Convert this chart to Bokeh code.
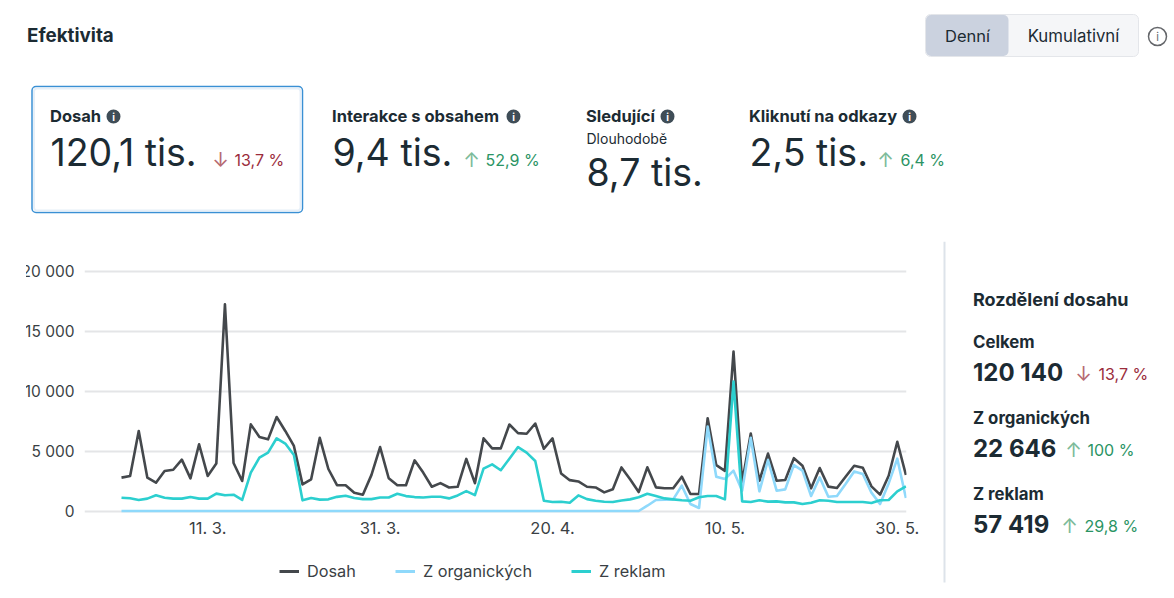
from bokeh.plotting import figure
from bokeh.layouts import column, row
from bokeh.models import BoxAnnotation, Label, Legend, LegendItem, FixedTicker, Range1d
from bokeh.embed import file_html
from bokeh.resources import INLINE

dosah = [2780, 2920, 6670, 2780, 2360, 3330, 3440, 4280, 2720, 5560, 2920, 3950, 17220, 4000, 2500, 7220,
         6170, 5970, 7830, 6670, 5420, 2220, 2640, 6100, 3500, 2160, 2150, 1520, 1350, 3010, 5330, 2730,
         2150, 2150, 4220, 3200, 2020, 2320, 1960, 2020, 4340, 2320, 6050, 5220, 5220, 7210, 6490, 6440,
         7290, 5190, 6050, 3120, 2570, 2460, 2020, 1960, 1550, 1820, 3630, 2650, 1580, 3640, 1970, 1890,
         1890, 2860, 1420, 1420, 7730, 3820, 3350, 13290, 2380, 6450, 2520, 4790, 2520, 2580, 4400, 3770,
         1890, 3580, 2030, 1920, 2860, 3770, 3600, 2050, 1360, 2940, 5770, 3000]
organic = [0] * 60 + [0, 440, 920, 950, 970, 2110, 580, 250, 7030, 2860, 2670, 3360, 1690, 6100, 1640, 4250,
                      1690, 1800, 3830, 3360, 1250, 2800, 1190, 1250, 2250, 3300, 3080, 1530, 580, 2300, 4360, 1080]
reklam = [1110, 1060, 920, 1030, 1310, 1110, 1030, 1030, 1170, 1030, 1030, 1450, 1310, 1360, 920, 3200,
          4450, 4870, 6060, 5620, 4670, 890, 1080, 950, 970, 1180, 1270, 1080, 990, 990, 1130, 1130,
          1440, 1240, 1160, 1130, 1190, 1190, 1050, 1300, 1660, 1320, 3530, 3890, 3400, 4360, 5330, 4860,
          4170, 860, 750, 770, 690, 1300, 990, 860, 770, 750, 880, 970, 1140, 1440, 1250, 1050,
          970, 890, 860, 1140, 1250, 1250, 970, 10780, 800, 750, 890, 780, 800, 720, 720, 580,
          690, 890, 860, 750, 750, 750, 750, 670, 890, 920, 1640, 2050]
days = list(range(len(dosah)))
tick_days = [10, 30, 50, 70, 90]
tick_labels = ["11. 3.", "31. 3.", "20. 4.", "10. 5.", "30. 5."]
y_ticks = [0, 5000, 10000, 15000, 20000]
y_labels = ["0", "5 000", "10 000", "15 000", "20 000"]
series_names = ["Dosah", "Z organických", "Z reklam"]
series = [dosah, organic, reklam]
series_colors = ["#44484c", "#8fd9fb", "#2ccfcf"]

FONT = "Inter"
INK = "#1c2b33"
RED = "#9b2c3c"
GREEN = "#2b9464"
RED_A = "#b66a72"
GREEN_A = "#7dbb9a"

HEAD_H = 241
LEG_TOP = 545
W_CHART = 930
F_L, F_R, F_T, F_B = 84, 906, 265, 515
X0, DX = 121, 8.62
Y0, PY = 510.5, 12 / 1000
H_MID = 598 - HEAD_H

p = figure(width=W_CHART, height=LEG_TOP - HEAD_H, output_backend="svg", toolbar_location=None,
           x_range=Range1d((F_L - X0) / DX, (F_R - X0) / DX),
           y_range=Range1d((Y0 - F_B) / PY, (Y0 - F_T) / PY),
           min_border_left=F_L, min_border_right=W_CHART - F_R, min_border_top=F_T - HEAD_H,
           min_border_bottom=LEG_TOP - F_B, styles={"clip-path": "inset(0 0 0 26px)"})
p.outline_line_color = None
p.xgrid.visible = False
p.ygrid.grid_line_color = "#e4e5e7"
p.ygrid.grid_line_width = 2
p.ygrid.ticker = FixedTicker(ticks=y_ticks)
for ax, ticks, labels, off, size in ((p.xaxis[0], tick_days, tick_labels, 2, "16.5px"),
                                     (p.yaxis[0], y_ticks, y_labels, 10, "15.5px")):
    ax.ticker = FixedTicker(ticks=ticks)
    ax.major_label_overrides = dict(zip(ticks, labels))
    ax.axis_line_color = None
    ax.major_tick_line_color = None
    ax.minor_tick_line_color = None
    ax.major_tick_out = 0
    ax.major_tick_in = 0
    ax.major_label_text_font = FONT
    ax.major_label_text_font_size = size
    ax.major_label_text_color = "#3a3f44"
    ax.major_label_standoff = off

for vals, col in zip(series, series_colors):
    p.line(days, vals, line_color=col, line_width=2.6, line_join="round")

# Legend strip: same series, view range kept away from them so only the legend keys show.
lf = figure(width=W_CHART, height=598 - LEG_TOP, output_backend="svg", toolbar_location=None, x_axis_type=None,
            y_axis_type=None, x_range=Range1d(-30, -20), y_range=Range1d(-30, -20), min_border=0, min_border_left=0,
            min_border_right=0, min_border_top=0, min_border_bottom=0)
lf.outline_line_color = None
lf.grid.visible = False
rs = [lf.line(days, vals, line_color=col, line_width=3) for vals, col in zip(series, series_colors)]
legend = Legend(items=[LegendItem(label=n, renderers=[r]) for n, r in zip(series_names, rs)],
                orientation="horizontal", location=(279 - F_L, 598 - 571 - 10), padding=0, margin=0, spacing=39,
                glyph_width=20, glyph_height=20, label_standoff=8, border_line_color=None,
                background_fill_alpha=0, label_text_font=FONT, label_text_font_size="16.3px",
                label_text_color="#3a3f44")
lf.add_layout(legend, "center")


def panel(w, h, x_off, y_off):
    f = figure(width=w, height=h, output_backend="svg", toolbar_location=None, x_axis_type=None, y_axis_type=None,
               x_range=Range1d(0, 1), y_range=Range1d(0, 1), min_border=0, min_border_left=0, min_border_right=0,
               min_border_top=0, min_border_bottom=0)
    f.outline_line_color = None
    f.grid.visible = False

    def box(l, t, r, b, fill="white", line=None, lw=1, radius=0):
        f.add_layout(BoxAnnotation(left=l - x_off, right=r - x_off, top=y_off + h - t, bottom=y_off + h - b,
                                   left_units="screen", right_units="screen", top_units="screen",
                                   bottom_units="screen", fill_color=fill, fill_alpha=1, line_color=line,
                                   line_alpha=1, line_width=lw, border_radius=radius))

    def txt(x, y, s, size=15, color=INK, style="normal", align="left"):
        f.add_layout(Label(x=x - x_off, y=y_off + h - y, text=s, x_units="screen", y_units="screen", text_font=FONT,
                           text_font_size=f"{size}px", text_color=color, text_font_style=style, text_align=align,
                           text_baseline="middle", level="overlay"))

    def info(x, y):
        box(x - 7, y - 7, x + 7, y + 7, fill="#3f4d57", radius=7)
        txt(x, y + 0.5, "i", 10, "white", "bold", "center")

    return f, box, txt, info


head, box, txt, info = panel(1174, HEAD_H, 0, 0)
txt(26.5, 34.5, "Efektivita", 18.8, style="bold")

box(925, 14, 1138, 56, fill="#f5f6f8", line="#e4e6ea", radius=5)
box(925.5, 14.5, 1008, 55.5, fill="#cbd2df", radius=5)
txt(967, 35.5, "Denní", 16.5, align="center")
txt(1073, 35.5, "Kumulativní", 16.8, align="center")
box(1148, 27, 1166, 45, fill="white", line="#65676b", lw=1.5, radius=9)
txt(1157, 36.5, "i", 11, "#65676b", "normal", "center")

box(31.5, 86, 302, 212, fill="white", line="#3a90d4", lw=1.5, radius=4)
box(33.5, 88, 300, 210, fill="white", line="#e6eff8", lw=2, radius=3)

BIG = 37.5
HB = 16.5
PCT = 16
ARW = 20
txt(49.5, 115, "Dosah", HB, style="bold")
info(113, 116)
txt(50, 151.5, "120,1 tis.", BIG)
txt(220, 159, "↓", ARW, RED_A, align="center")
txt(234, 159, "13,7 %", PCT, RED)

txt(331.5, 115, "Interakce s obsahem", HB, style="bold")
info(513, 116)
txt(332, 151.5, "9,4 tis.", BIG)
txt(471, 159, "↑", ARW, GREEN_A, align="center")
txt(485, 159, "52,9 %", PCT, GREEN)

txt(585.5, 115, "Sledující", HB, style="bold")
info(667, 116)
txt(586, 137.5, "Dlouhodobě", 14)
txt(586, 171.5, "8,7 tis.", BIG)

txt(748.5, 115, "Kliknutí na odkazy", HB, style="bold")
info(909, 116)
txt(749, 151.5, "2,5 tis.", BIG)
txt(885, 159, "↑", ARW, GREEN_A, align="center")
txt(900, 159, "6,4 %", PCT, GREEN)

side, box, txt, info = panel(1174 - W_CHART, H_MID, W_CHART, HEAD_H)
box(943, 241, 945, 582, fill="#dde3ea")
txt(972.5, 298.5, "Rozdělení dosahu", 18, style="bold")
txt(972.5, 341, "Celkem", 16.8, style="bold")
txt(972.5, 371.5, "120 140", 24, style="bold")
txt(1083, 373, "↓", ARW, RED_A, align="center")
txt(1098, 373.5, "13,7 %", PCT, RED)
txt(972.5, 417, "Z organických", 16.8, style="bold")
txt(972.5, 447.5, "22 646", 24, style="bold")
txt(1073, 449, "↑", ARW, GREEN_A, align="center")
txt(1087, 449.5, "100 %", PCT, GREEN)
txt(972.5, 493, "Z reklam", 16.8, style="bold")
txt(972.5, 523.5, "57 419", 24, style="bold")
txt(1069, 525, "↑", ARW, GREEN_A, align="center")
txt(1084, 525.5, "29,8 %", PCT, GREEN)

page = column(head, row(column(p, lf, spacing=0), side, spacing=0), spacing=0)
open("out.html", "w").write(file_html(page, INLINE))
